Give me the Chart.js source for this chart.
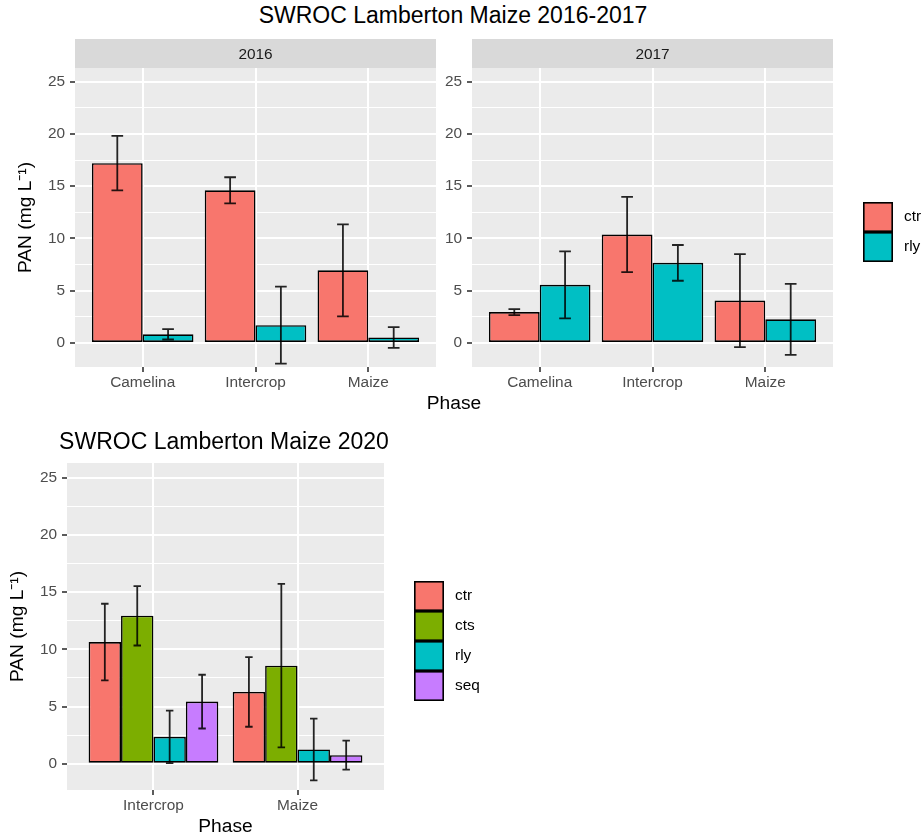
<!DOCTYPE html>
<html>
<head>
<meta charset="utf-8">
<script src="https://cdn.jsdelivr.net/npm/chart.js@4.4.1/dist/chart.umd.min.js"></script>
<style>
  html, body { margin: 0; padding: 0; background: #ffffff; }
  #fig { position: relative; width: 922px; height: 836px; overflow: hidden;
         font-family: "Liberation Sans", Arial, Helvetica, sans-serif; }
  #fig canvas { position: absolute; }
  .txt { position: absolute; white-space: nowrap; transform: translateX(-50%); color: #000; }
</style>
</head>
<body>
<div id="fig">
  <canvas id="c2016" width="445" height="395" style="left:0;top:30px"></canvas>
  <canvas id="c2017" width="477" height="395" style="left:445px;top:30px"></canvas>
  <canvas id="c2020" width="500" height="391" style="left:0;top:445px"></canvas>
  <div class="txt" style="left:453px;top:4px;font-size:23px;line-height:23px">SWROC Lamberton Maize 2016-2017</div>
  <div class="txt" style="left:454px;top:393px;font-size:19.2px;line-height:19.2px">Phase</div>
  <div class="txt" style="left:224px;top:430px;font-size:23px;line-height:23px">SWROC Lamberton Maize 2020</div>
</div>
<script>
// ---- data ----
const phases1617 = ['Camelina', 'Intercrop', 'Maize'];
const phases2020 = ['Intercrop', 'Maize'];

const ctr2016 = [17.2, 14.6, 6.95];
const ctr2016Err = [2.6, 1.25, 4.4];
const rly2016 = [0.83, 1.7, 0.52];
const rly2016Err = [0.5, 3.68, 1.0];

const ctr2017 = [2.95, 10.37, 4.05];
const ctr2017Err = [0.29, 3.6, 4.45];
const rly2017 = [5.56, 7.66, 2.26];
const rly2017Err = [3.2, 1.71, 3.4];

const ctr2020 = [10.64, 6.28];
const ctr2020Err = [3.35, 3.05];
const cts2020 = [12.94, 8.57];
const cts2020Err = [2.6, 7.15];
const rly2020 = [2.35, 1.25];
const rly2020Err = [2.3, 2.7];
const seq2020 = [5.43, 0.75];
const seq2020Err = [2.35, 1.27];

const yTickValues = [0, 2.5, 5, 7.5, 10, 12.5, 15, 17.5, 20, 22.5, 25];
const yLimits = [-2.3, 26.3];

// ---- styling ----
const FONT = '"Liberation Sans", Arial, Helvetica, sans-serif';
const SMALL = 15.4;
const AXIS_TITLE = 19.2;
const fills = { ctr: '#F8766D', cts: '#7CAE00', rly: '#00BFC4', seq: '#C77CFF' };
const yTitle = 'PAN (mg L\u207B\u00B9)';

Chart.defaults.font.family = FONT;

// grey panel behind the plotting region
const panelBackground = {
  id: 'panelBackground',
  beforeDraw(chart) {
    const { ctx, chartArea: a } = chart;
    ctx.save();
    ctx.fillStyle = '#EBEBEB';
    ctx.fillRect(a.left, a.top, a.right - a.left, a.bottom - a.top);
    ctx.restore();
  }
};

// facet label strip above the panel
const facetStrip = {
  id: 'facetStrip',
  afterDraw(chart, args, opts) {
    if (!opts || !opts.label) return;
    const { ctx, chartArea: a } = chart;
    ctx.save();
    ctx.fillStyle = '#D9D9D9';
    ctx.fillRect(a.left, opts.top, a.right - a.left, a.top - opts.top);
    ctx.fillStyle = '#1A1A1A';
    ctx.font = SMALL + 'px ' + FONT;
    ctx.textAlign = 'center';
    ctx.textBaseline = 'middle';
    ctx.fillText(opts.label, (a.left + a.right) / 2, (opts.top + a.top) / 2 + 1);
    ctx.restore();
  }
};

// mean +/- error whiskers on each bar
const errorBars = {
  id: 'errorBars',
  afterDatasetsDraw(chart) {
    const { ctx } = chart;
    const yScale = chart.scales.y;
    ctx.save();
    ctx.strokeStyle = 'rgba(0,0,0,0.85)';
    ctx.lineWidth = 1.8;
    chart.data.datasets.forEach((ds, i) => {
      const meta = chart.getDatasetMeta(i);
      meta.data.forEach((bar, j) => {
        const m = ds.data[j].y, e = ds.errors[j];
        const top = yScale.getPixelForValue(m + e);
        const bot = yScale.getPixelForValue(m - e);
        const half = bar.width * 0.115;
        ctx.beginPath();
        ctx.moveTo(bar.x, top); ctx.lineTo(bar.x, bot);
        ctx.moveTo(bar.x - half, top); ctx.lineTo(bar.x + half, top);
        ctx.moveTo(bar.x - half, bot); ctx.lineTo(bar.x + half, bot);
        ctx.stroke();
      });
    });
    ctx.restore();
  }
};

// stacked square keys with labels
const keyLegend = {
  id: 'keyLegend',
  afterDraw(chart, args, opts) {
    if (!opts || opts.x === undefined) return;
    const { ctx } = chart;
    const s = opts.size;
    ctx.save();
    chart.data.datasets.forEach((ds, i) => {
      const y = opts.y + i * s;
      ctx.fillStyle = ds.backgroundColor;
      ctx.fillRect(opts.x, y, s, s);
      ctx.lineWidth = 1.6;
      ctx.strokeStyle = '#000';
      ctx.strokeRect(opts.x + 0.8, y + 0.8, s - 1.6, s - 1.6);
      ctx.fillStyle = '#000';
      ctx.font = SMALL + 'px ' + FONT;
      ctx.textAlign = 'left';
      ctx.textBaseline = 'middle';
      ctx.fillText(ds.label, opts.x + s + 11, y + s / 2);
    });
    ctx.restore();
  }
};

function series(label, values, errs) {
  return {
    label: label,
    data: values.map((v, i) => ({ x: i + 1, y: v })),
    errors: errs,
    backgroundColor: fills[label],
    borderColor: '#000000',
    borderWidth: 1.6,
    borderSkipped: false,
    categoryPercentage: 0.9,
    barPercentage: 1.0
  };
}

function makeChart(id, cats, datasets, lay) {
  const isMajor = c => c.tick && Math.abs(c.tick.value % 5) < 1e-9;
  return new Chart(document.getElementById(id), {
    type: 'bar',
    data: { datasets: datasets },
    plugins: [panelBackground, facetStrip, errorBars, keyLegend],
    options: {
      responsive: false,
      animation: false,
      events: [],
      layout: { padding: lay.padding },
      plugins: {
        legend: { display: false },
        tooltip: { enabled: false },
        facetStrip: lay.strip || {},
        keyLegend: lay.legend || {}
      },
      scales: {
        x: {
          type: 'linear',
          offset: false,
          min: 0.4,
          max: cats.length + 0.6,
          afterBuildTicks: s => { s.ticks = cats.map((c, i) => ({ value: i + 1 })); },
          afterFit: s => { s.height = lay.xHeight; },
          ticks: {
            callback: v => cats[Math.round(v) - 1] || '',
            color: '#4D4D4D', font: { size: SMALL }, padding: 2,
            maxRotation: 0, autoSkip: false
          },
          grid: { offset: false, color: '#FFFFFF', lineWidth: 2, tickColor: '#333333', tickLength: 5, tickWidth: 1.6 },
          border: { display: false },
          title: lay.xTitle ? {
            display: true, text: lay.xTitle, color: '#000',
            font: { size: AXIS_TITLE, lineHeight: 1 }, padding: { top: 0, bottom: 0 }
          } : { display: false }
        },
        y: {
          type: 'linear',
          min: yLimits[0],
          max: yLimits[1],
          afterBuildTicks: s => { s.ticks = yTickValues.map(v => ({ value: v })); },
          afterFit: s => { s.width = lay.yWidth; },
          ticks: {
            callback: v => (Math.abs(v % 5) < 1e-9 ? String(v) : ''),
            color: '#4D4D4D', font: { size: SMALL }, padding: 5, autoSkip: false
          },
          grid: {
            color: '#FFFFFF',
            lineWidth: c => (isMajor(c) ? 2 : 1),
            tickColor: c => (isMajor(c) ? '#333333' : 'rgba(0,0,0,0)'),
            tickLength: 5,
            tickWidth: 1.6
          },
          border: { display: false },
          title: lay.yTitlePad !== undefined ? {
            display: true, text: yTitle, color: '#000',
            font: { size: AXIS_TITLE, lineHeight: 1 }, padding: { top: lay.yTitlePad, bottom: 0 }
          } : { display: false }
        }
      }
    }
  });
}

makeChart('c2016', phases1617,
  [series('ctr', ctr2016, ctr2016Err), series('rly', rly2016, rly2016Err)],
  { padding: { left: 0, top: 38, right: 9, bottom: 0 }, yWidth: 75, xHeight: 58,
    yTitlePad: 16.4, strip: { label: '2016', top: 9 } });

makeChart('c2017', phases1617,
  [series('ctr', ctr2017, ctr2017Err), series('rly', rly2017, rly2017Err)],
  { padding: { left: 0, top: 38, right: 89, bottom: 0 }, yWidth: 27, xHeight: 58,
    strip: { label: '2017', top: 9 }, legend: { x: 418, y: 172, size: 30 } });

makeChart('c2020', phases2020,
  [series('ctr', ctr2020, ctr2020Err), series('cts', cts2020, cts2020Err),
   series('rly', rly2020, rly2020Err), series('seq', seq2020, seq2020Err)],
  { padding: { left: 0, top: 18, right: 116, bottom: 0 }, yWidth: 67, xHeight: 46,
    yTitlePad: 8.4, xTitle: 'Phase', legend: { x: 414, y: 136, size: 30 } });
</script>
</body>
</html>
